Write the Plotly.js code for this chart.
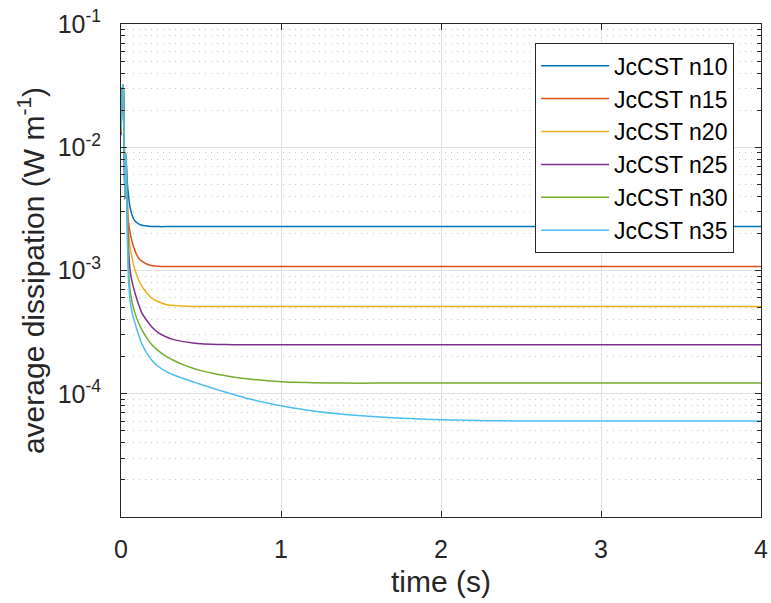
<!DOCTYPE html>
<html>
<head>
<meta charset="utf-8">
<script src="https://cdn.plot.ly/plotly-3.0.1.min.js"></script>
<style>html,body{margin:0;padding:0;background:#fff;}#chart{width:771px;height:603px;}</style>
</head>
<body>
<div id="chart"></div>
<script>
// time samples (s)
const time = [0, 0.004, 0.009, 0.013, 0.017, 0.021, 0.024, 0.027, 0.031,
  0.036, 0.045, 0.056, 0.07, 0.087, 0.108, 0.13, 0.16, 0.19, 0.23, 0.28, 0.33, 0.38,
  0.45, 0.5, 0.6, 0.7, 0.8, 0.9, 1.0, 1.2, 1.4, 1.6, 1.8, 2.0, 2.3, 2.6, 3.0, 3.5, 4.0];

const seriesNames = ['JcCST n10', 'JcCST n15', 'JcCST n20', 'JcCST n25', 'JcCST n30', 'JcCST n35'];

const n10 = [0.0125, 0.02, 0.03, 0.032, 0.025, 0.009, 0.0038, 0.009, 0.0085,
  6.0e-3, 4.3e-3, 3.3e-3, 2.8e-3, 2.52e-3, 2.4e-3, 2.33e-3, 2.3e-3, 2.28e-3, 2.27e-3, 2.27e-3, 2.27e-3, 2.27e-3,
  2.27e-3, 2.27e-3, 2.27e-3, 2.27e-3, 2.27e-3, 2.27e-3, 2.27e-3, 2.27e-3, 2.27e-3, 2.27e-3, 2.27e-3, 2.27e-3, 2.27e-3, 2.27e-3, 2.27e-3, 2.27e-3, 2.27e-3];
const n15 = [0.013, 0.02, 0.03, 0.032, 0.025, 0.009, 0.0038, 0.009, 0.0085,
  5.2e-3, 2.6e-3, 2.05e-3, 1.7e-3, 1.45e-3, 1.27e-3, 1.19e-3, 1.13e-3, 1.1e-3, 1.085e-3, 1.08e-3, 1.08e-3, 1.08e-3,
  1.08e-3, 1.08e-3, 1.08e-3, 1.08e-3, 1.08e-3, 1.08e-3, 1.08e-3, 1.08e-3, 1.08e-3, 1.08e-3, 1.08e-3, 1.08e-3, 1.08e-3, 1.08e-3, 1.08e-3, 1.08e-3, 1.08e-3];
const n20 = [0.0135, 0.02, 0.03, 0.032, 0.025, 0.009, 0.0038, 0.009, 0.0085,
  4.5e-3, 2.3e-3, 1.58e-3, 1.25e-3, 1.02e-3, 8.5e-4, 7.45e-4, 6.6e-4, 6.0e-4, 5.6e-4, 5.3e-4, 5.2e-4, 5.14e-4,
  5.1e-4, 5.1e-4, 5.1e-4, 5.1e-4, 5.1e-4, 5.1e-4, 5.1e-4, 5.1e-4, 5.1e-4, 5.1e-4, 5.1e-4, 5.1e-4, 5.1e-4, 5.1e-4, 5.1e-4, 5.1e-4, 5.1e-4];
const n25 = [0.014, 0.02, 0.03, 0.032, 0.025, 0.009, 0.0038, 0.009, 0.0085,
  4.2e-3, 1.7e-3, 1.02e-3, 8.0e-4, 6.6e-4, 5.4e-4, 4.53e-4, 3.95e-4, 3.52e-4, 3.15e-4, 2.9e-4, 2.75e-4, 2.66e-4,
  2.58e-4, 2.54e-4, 2.51e-4, 2.5e-4, 2.5e-4, 2.5e-4, 2.5e-4, 2.5e-4, 2.5e-4, 2.5e-4, 2.5e-4, 2.5e-4, 2.5e-4, 2.5e-4, 2.5e-4, 2.5e-4, 2.5e-4];
const n30 = [0.014, 0.02, 0.03, 0.032, 0.025, 0.009, 0.0038, 0.009, 0.0085,
  3.8e-3, 1.2e-3, 7.0e-4, 5.5e-4, 4.53e-4, 3.8e-4, 3.31e-4, 2.85e-4, 2.52e-4, 2.25e-4, 2.02e-4, 1.86e-4, 1.74e-4,
  1.61e-4, 1.54e-4, 1.44e-4, 1.37e-4, 1.32e-4, 1.28e-4, 1.25e-4, 1.23e-4, 1.22e-4, 1.22e-4, 1.22e-4, 1.22e-4, 1.22e-4, 1.22e-4, 1.22e-4, 1.22e-4, 1.22e-4];
const n35 = [0.014, 0.02, 0.03, 0.032, 0.025, 0.009, 0.0038, 0.009, 0.0085,
  3.6e-3, 1.0e-3, 5.8e-4, 4.5e-4, 3.76e-4, 3.05e-4, 2.55e-4, 2.15e-4, 1.89e-4, 1.68e-4, 1.52e-4, 1.42e-4, 1.34e-4,
  1.25e-4, 1.19e-4, 1.08e-4, 9.9e-5, 9.1e-5, 8.5e-5, 8.0e-5, 7.25e-5, 6.8e-5, 6.5e-5, 6.3e-5, 6.15e-5, 6.05e-5, 6.0e-5, 6.0e-5, 6.0e-5, 6.0e-5];

const seriesValues = [n10, n15, n20, n25, n30, n35];
const colors = ['#0072BD', '#D95319', '#EDB120', '#7E2F8E', '#77AC30', '#4DBEEE'];

const xTickVals = [0, 1, 2, 3, 4];
const xTickText = ['0', '1', '2', '3', '4'];
const yTickVals = [1e-4, 1e-3, 1e-2, 1e-1];
const yTickText = ['10<sup>-4</sup>', '10<sup>-3</sup>', '10<sup>-2</sup>', '10<sup>-1</sup>'];
const decades = [1e-5, 1e-4, 1e-3, 1e-2];
const mults = [2, 3, 4, 5, 6, 7, 8, 9];
const yMinorVals = [];
decades.forEach(d => mults.forEach(m => yMinorVals.push(m * d)));

const FONT = 'Liberation Sans, Arial, Helvetica, sans-serif';
const AX = '#262626';

const traces = seriesValues.map((v, i) => ({
  x: time, y: v, type: 'scatter', mode: 'lines', name: seriesNames[i],
  line: {color: colors[i], width: 1.5, shape: 'spline', smoothing: 0.5}
}));

const layout = {
  width: 771, height: 603,
  margin: {l: 121, r: 10, t: 24, b: 86},
  paper_bgcolor: '#fff', plot_bgcolor: '#fff',
  font: {family: FONT, color: AX},
  showlegend: true,
  legend: {
    x: 0.647, y: 0.961, xanchor: 'left', yanchor: 'top',
    bgcolor: '#fff', bordercolor: AX, borderwidth: 1,
    font: {family: FONT, size: 23, color: '#000'},
    itemwidth: 68
  },
  xaxis: {
    range: [0, 4], tickmode: 'array', tickvals: xTickVals, ticktext: xTickText,
    ticks: 'inside', ticklen: 6, tickcolor: AX, ticklabelstandoff: 10,
    showline: true, linecolor: AX, linewidth: 1, mirror: 'ticks',
    showgrid: true, gridcolor: '#e1e1e1', zeroline: false,
    tickfont: {family: FONT, size: 25, color: AX},
    title: {text: 'time (s)', font: {family: FONT, size: 30, color: AX}, standoff: 8}
  },
  yaxis: {
    type: 'log', range: [-5, -1], tickmode: 'array', tickvals: yTickVals, ticktext: yTickText,
    ticks: 'inside', ticklen: 6, tickcolor: AX, ticklabelstandoff: 14,
    showline: true, linecolor: AX, linewidth: 1, mirror: 'ticks',
    showgrid: true, gridcolor: '#e1e1e1', zeroline: false,
    tickfont: {family: FONT, size: 25, color: AX},
    minor: {tickmode: 'array', tickvals: yMinorVals, ticks: 'inside', ticklen: 4, tickcolor: AX,
            showgrid: true, gridcolor: '#c4c4c4', griddash: '1px,5px', gridwidth: 1},
    title: {text: 'average dissipation (W m<sup>-1</sup>)', font: {family: FONT, size: 30, color: AX}, standoff: 4}
  }
};

Plotly.newPlot('chart', traces, layout, {staticPlot: true, displayModeBar: false});
</script>
</body>
</html>
